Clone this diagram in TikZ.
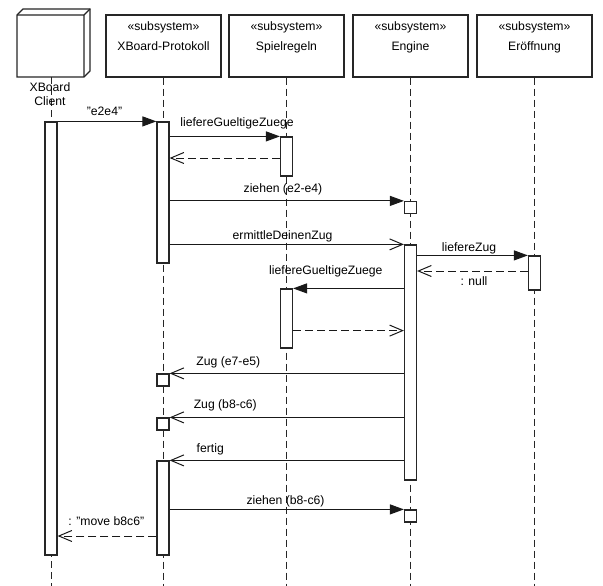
\documentclass[tikz,border=0pt]{standalone}
\usepackage{fontspec}
\setmainfont{Liberation Sans}
\usetikzlibrary{arrows.meta}
\begin{document}
\begin{tikzpicture}[x=1pt,y=-1pt,
  font=\fontsize{12.2}{14}\selectfont,
  ln/.style={draw=black!90, line width=1pt},
  head/.style={draw=black!85, line width=1.2pt, fill=white, minimum width=115pt, minimum height=62pt, inner sep=0pt},
  bar/.style={draw=black!85, line width=1.2pt, fill=white, minimum width=12pt, inner sep=0pt},
  life/.style={draw=black!85, line width=1pt, dash pattern=on 7pt off 4pt},
  sync/.style={ln, -{Triangle[length=14pt,width=10pt]}},
  async/.style={ln, -{Straight Barb[length=13pt,width=11pt]}},
  ret/.style={ln, dash pattern=on 8pt off 4pt, -{Straight Barb[length=13pt,width=11pt]}},
  txt/.style={inner sep=0pt, anchor=base},
]
\useasboundingbox (0,0) rectangle (603,586);

% heads
\node[head] (xp) at (163.5,46) {};
\node[head] (sr) at (286.5,46) {};
\node[head] (en) at (410.5,46) {};
\node[head] (er) at (534.5,46) {};
\node[txt] (xps) at (163.5,30.5) {«subsystem»};
\node[txt] (xpn) at (163.5,51) {XBoard-Protokoll};
\node[txt] (srs) at (286.5,30.5) {«subsystem»};
\node[txt] (srn) at (286.5,51) {Spielregeln};
\node[txt] (ens) at (410.5,30.5) {«subsystem»};
\node[txt] (enn) at (410.5,51) {Engine};
\node[txt] (ers) at (534.5,30.5) {«subsystem»};
\node[txt] (ern) at (534.5,51) {Eröffnung};

% client 3D node
\coordinate (c1) at (17,15);
\coordinate (c2) at (84,15);
\coordinate (c3) at (84,77);
\coordinate (c4) at (17,77);
\coordinate (c5) at (23,9);
\coordinate (c6) at (90,9);
\coordinate (c7) at (90,71);
\draw[draw=black!85, line width=1.2pt, fill=white, line join=miter] (c1) -- (c5) -- (c6) -- (c7) -- (c3) -- (c4) -- cycle;
\draw[draw=black!85, line width=1.2pt] (c1) -- (c2) -- (c3) (c2) -- (c6);
\coordinate (cl) at (51,77);

% lifelines
\coordinate (clb) at (51,586);
\coordinate (xpb) at (163.5,586);
\coordinate (srb) at (286.5,586);
\coordinate (enb) at (410.5,586);
\coordinate (erb) at (534.5,586);
\draw[life] (cl) -- (clb);
\draw[life] (xp.south) -- (xpb);
\draw[life] (sr.south) -- (srb);
\draw[life] (en.south) -- (enb);
\draw[life] (er.south) -- (erb);

\node[txt] (clt1) at (50,92) {XBoard};
\node[txt] (clt2) at (50,105.3) {Client};

% activation bars
\node[bar, minimum height=433pt] (cb) at (51,338.5) {};
\node[bar, minimum height=141pt] (xb1) at (163,192.5) {};
\node[bar, minimum height=12pt] (xs1) at (163,380) {};
\node[bar, minimum height=12pt] (xs2) at (163,424) {};
\node[bar, minimum height=94pt] (xb2) at (163,508) {};
\node[bar, minimum height=39pt] (sp1) at (286.5,156.5) {};
\node[bar, minimum height=59pt] (sp2) at (286.5,318.5) {};
\node[bar, minimum height=12pt] (es1) at (410.5,207.5) {};
\node[bar, minimum height=235pt] (eb) at (410.5,362.5) {};
\node[bar, minimum height=12pt] (es2) at (410.5,516) {};
\node[bar, minimum height=34pt] (ob) at (534.5,273) {};

% messages
\draw[sync] (cb.north east) -- (xb1.north west);
\node[txt] (l1) at (104.5,115) {\symbol{34}e2e4\symbol{34}};

\draw[sync] (xb1.east |- sp1.north) -- (sp1.north west);
\node[txt] (l2) at (237,126.7) {liefereGueltigeZuege};

\draw[ret] ([yshift=-1.5pt]sp1.west) -- ([yshift=-1.5pt]sp1.west -| xb1.east);

\draw[sync] (xb1.east |- es1.north) -- (es1.north west);
\node[txt] (l3) at (283,192.5) {ziehen (e2-e4)};

\draw[async] (xb1.east |- eb.north) -- (eb.north west);
\node[txt] (l4) at (282.5,239.3) {ermittleDeinenZug};

\draw[sync] (eb.east |- ob.north) -- (ob.north west);
\node[txt] (l5) at (469,251) {liefereZug};

\draw[ret] ([yshift=2pt]ob.west) -- ([yshift=2pt]ob.west -| eb.east);
\node[txt] (l6) at (474,285.7) {: null};

\draw[sync] (eb.west |- sp2.north) -- (sp2.north east);
\node[txt] (l7) at (325.8,274) {liefereGueltigeZuege};

\draw[ret] ([yshift=18pt]sp2.south east) -- ([yshift=18pt]sp2.south east -| eb.west);

\draw[async] (eb.west |- xs1.north) -- (xs1.north east);
\node[txt] (l8) at (228.3,365) {Zug (e7-e5)};

\draw[async] (eb.west |- xs2.north) -- (xs2.north east);
\node[txt] (l9) at (225.3,408.7) {Zug (b8-c6)};

\draw[async] (eb.west |- xb2.north) -- (xb2.north east);
\node[txt] (l10) at (210.3,452.7) {fertig};

\draw[sync] (xb2.east |- es2.north) -- (es2.north west);
\node[txt] (l11) at (285.5,504.3) {ziehen (b8-c6)};

\draw[ret] ([yshift=-28pt]xb2.west) -- ([yshift=-28pt]xb2.west -| cb.east);
\node[txt] (l12) at (106.3,525.7) {: \symbol{34}move b8c6\symbol{34}};
\end{tikzpicture}
\end{document}
